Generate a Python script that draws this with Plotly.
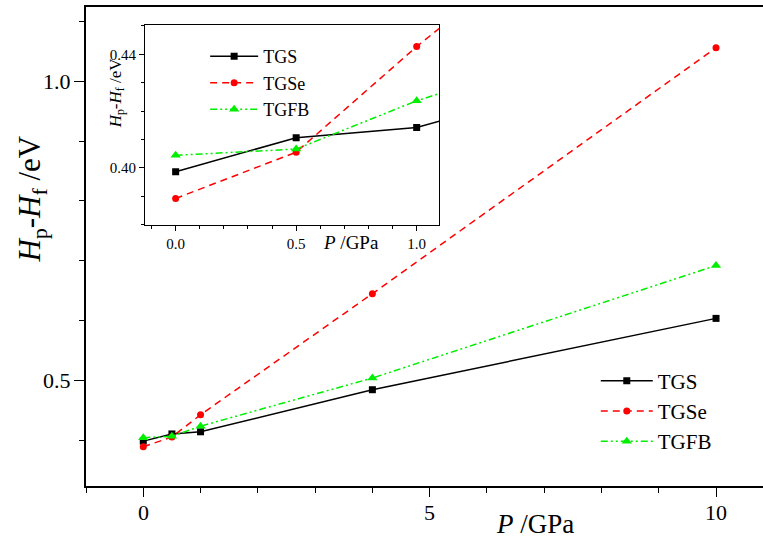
import plotly.graph_objects as go

# Pressure (GPa) and enthalpy difference H_p - H_f (eV) for each crystal
pressure = [0, 0.5, 1, 4, 10]
tgs = [0.3986, 0.4106, 0.4142, 0.4845, 0.6037]
tgse = [0.3892, 0.4055, 0.4427, 0.6450, 1.056]
tgfb = [0.4044, 0.4066, 0.4236, 0.5040, 0.692]

series_names = ["TGS", "TGSe", "TGFB"]
series_values = [tgs, tgse, tgfb]

# labelled ticks of the main panel
main_xticks = [0, 5, 10]
main_xticklabels = ["0", "5", "10"]
main_yticks = [0.5, 1.0]
main_yticklabels = ["0.5", "1.0"]

FONT = "Liberation Serif"

styles = {
    "TGS": dict(color="#000000", dash="solid", symbol="square"),
    "TGSe": dict(color="#ff0000", dash="7px,5px", symbol="circle"),
    "TGFB": dict(color="#00ee00", dash="7px,3px,2px,3px,2px,3px", symbol="triangle-up"),
}

fig = go.Figure()

# inset (x2/y2) traces first, then the main panel (x/y)
for xa, ya, leg in (("x2", "y2", "legend2"), ("x", "y", "legend")):
    for name, vals in zip(series_names, series_values):
        st = styles[name]
        fig.add_trace(go.Scatter(
            x=pressure, y=vals, name=name, mode="lines+markers",
            line=dict(color=st["color"], dash=st["dash"], width=1.5),
            marker=dict(color=st["color"], symbol=st["symbol"],
                        size=9 if st["symbol"] == "triangle-up" else 7),
            xaxis=xa, yaxis=ya, legend=leg,
        ))


def font(size):
    return dict(family=FONT, size=size, color="black")


fig.update_layout(
    template="none",
    width=763, height=538,
    margin=dict(l=86, r=0, t=7, b=52),
    paper_bgcolor="white", plot_bgcolor="white",
    font=font(22),
    xaxis=dict(
        showgrid=False, zeroline=False, showline=True, linecolor="black",
        linewidth=1.5, mirror=True, range=[-1.0, 10.82],
        tickmode="array", tickvals=main_xticks, showticklabels=False,
        ticks="outside", ticklen=9, tickwidth=1.3, tickcolor="black",
        minor=dict(dtick=1, tick0=0, ticklen=5, ticks="outside", tickcolor="black", tickwidth=1.3),
        domain=[0, 1],
    ),
    yaxis=dict(
        showgrid=False, zeroline=False, showline=True, linecolor="black",
        linewidth=1.5, range=[0.3236, 1.1241],
        tickmode="array", tickvals=main_yticks, showticklabels=False,
        ticks="outside", ticklen=10, tickwidth=1.3, tickcolor="black",
        minor=dict(dtick=0.1, tick0=0, ticklen=5, ticks="outside", tickcolor="black", tickwidth=1.3),
        domain=[0, 1],
    ),
    xaxis2=dict(
        showgrid=False, zeroline=False, showline=True, linecolor="black", linewidth=1.3,
        mirror=True, range=[-0.127, 1.094],
        tickmode="linear", tick0=0, dtick=0.5, tickformat=".1f",
        ticks="outside", ticklen=5, tickwidth=1, tickcolor="black",
        tickfont=font(15),
        minor=dict(dtick=0.1, tick0=0, ticklen=3, ticks="outside", tickcolor="black", tickwidth=1),
        domain=[0.0872, 0.5219], anchor="y2",
    ),
    yaxis2=dict(
        showgrid=False, zeroline=False, showline=True, linecolor="black", linewidth=1.3,
        mirror=True, range=[0.3798, 0.4503],
        tickmode="linear", tick0=0.4, dtick=0.04, tickformat=".2f",
        ticks="outside", ticklen=5, tickwidth=1, tickcolor="black",
        tickfont=font(15),
        minor=dict(dtick=0.01, tick0=0.4, ticklen=3, ticks="outside", tickcolor="black", tickwidth=1),
        domain=[0.5446, 0.9624], anchor="x2",
    ),
    legend=dict(
        x=0.753, y=0.262, xanchor="left", yanchor="top",
        bgcolor="rgba(0,0,0,0)", font=font(21),
        itemwidth=52, tracegroupgap=0,
    ),
    legend2=dict(
        x=0.176, y=0.935, xanchor="left", yanchor="top",
        bgcolor="rgba(0,0,0,0)", font=font(18),
        itemwidth=48, tracegroupgap=0,
    ),
    showlegend=True,
)

# tick labels of the main panel, placed on the axis values
for val, lab in zip(main_xticks, main_xticklabels):
    fig.add_annotation(
        text=lab, xref="x", yref="paper", x=val, y=0, yshift=-12,
        xanchor="center", yanchor="top", showarrow=False, font=font(22),
    )
for val, lab in zip(main_yticks, main_yticklabels):
    fig.add_annotation(
        text=lab, xref="paper", yref="y", x=0, y=val, xshift=-13,
        xanchor="right", yanchor="middle", showarrow=False, font=font(22),
    )

# axis titles
titles = [
    ("<i>P</i> /GPa", 0.663, -0.08, 0, 27),
    ("<i>H</i><sub>p</sub>-<i>H</i><sub>f</sub> /eV", -0.08, 0.6, -90, 31),
    ("<i>P</i> /GPa", 0.392, 0.509, 0, 19),
    ("<i>H</i><sub>p</sub>-<i>H</i><sub>f</sub> /eV", 0.046, 0.82, -90, 17),
]
for text, x, y, angle, size in titles:
    fig.add_annotation(
        text=text, xref="paper", yref="paper", x=x, y=y, textangle=angle,
        xanchor="center", yanchor="middle", showarrow=False,
        font=font(size),
    )

fig.write_html("out.html")
